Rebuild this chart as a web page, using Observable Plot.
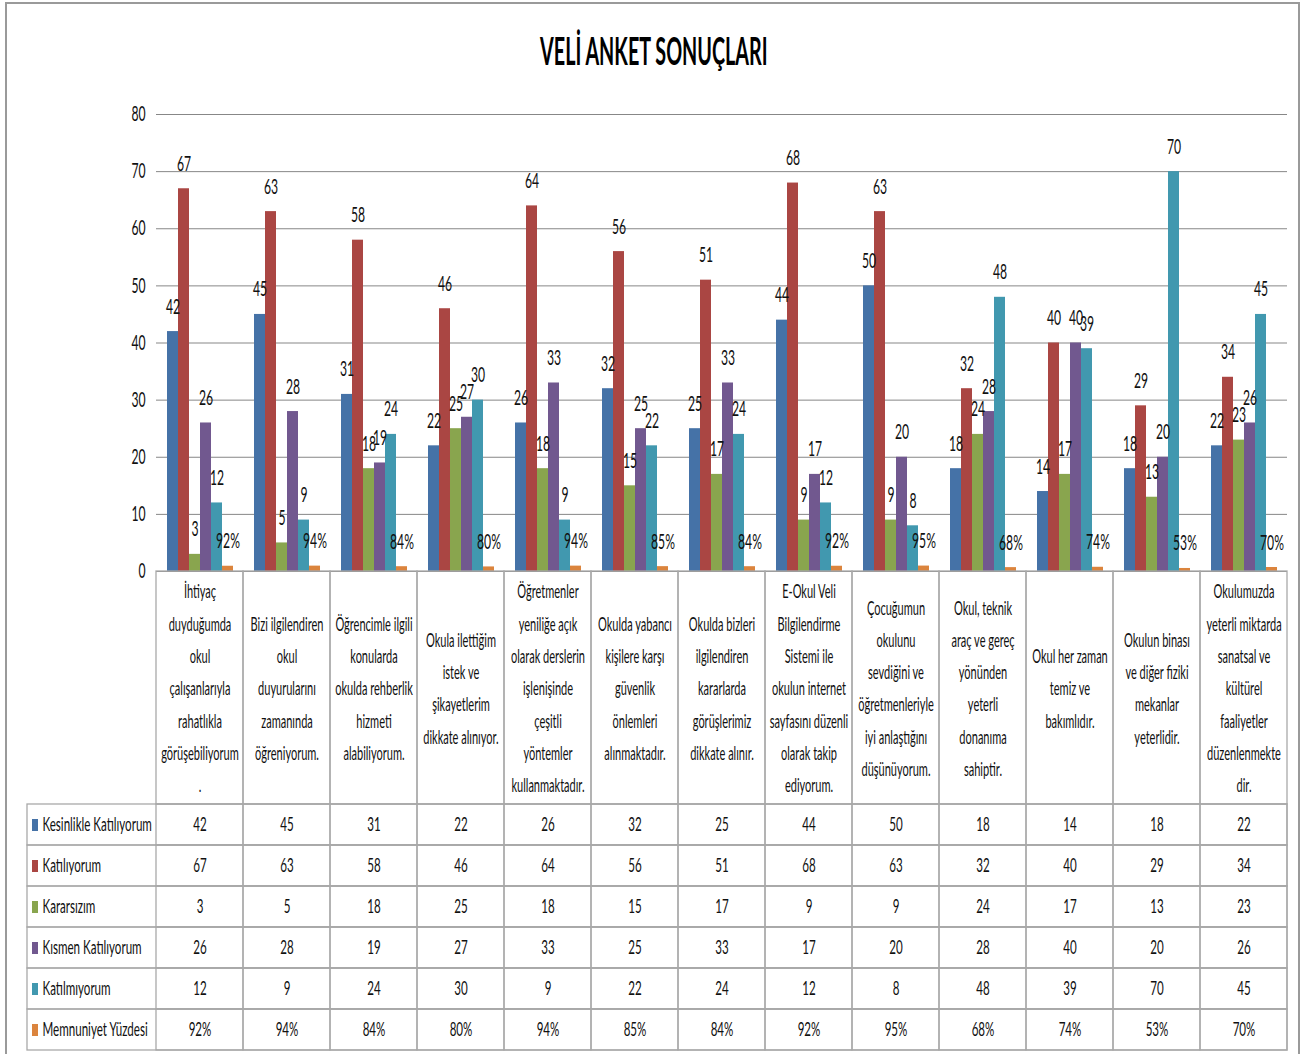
<!DOCTYPE html>
<html>
<head>
<meta charset="utf-8">
<script src="https://cdn.jsdelivr.net/npm/d3@7"></script>
<script src="https://cdn.jsdelivr.net/npm/@observablehq/plot@0.6"></script>
<style>
  html, body { margin: 0; padding: 0; background: #fff; }
  #page { position: relative; width: 1308px; height: 1057px; overflow: hidden; font-family: Lato, sans-serif; }
  #border { position: absolute; left: 5px; top: 2px; width: 1295px; height: 1052px; border: 2px solid #9a9a9a; border-bottom: none; box-sizing: border-box; }
  #title { position: absolute; left: 0; top: 31px; width: 1308px; text-align: center; }
  #title span { display: inline-block; font-size: 38px; line-height: 38px; font-weight: 700; color: #000; transform: scaleX(0.52); transform-origin: center; white-space: nowrap; }
  .blk { position: absolute; left: 0; }
  .blk svg { display: block; }
</style>
</head>
<body>
<div id="page">
  <div id="border"></div>
  <div id="title"><span>VELİ ANKET SONUÇLARI</span></div>
  <div class="blk" id="chart" style="top:90px"></div>
  <div class="blk" id="header" style="top:571px"></div>
  <div class="blk" id="table" style="top:804px"></div>
</div>
<script>
// ---------- data ----------
const categories = [
  "İhtiyaç\nduyduğumda\nokul\nçalışanlarıyla\nrahatlıkla\ngörüşebiliyorum\n.",
  "Bizi ilgilendiren\nokul\nduyurularını\nzamanında\nöğreniyorum.",
  "Öğrencimle ilgili\nkonularda\nokulda rehberlik\nhizmeti\nalabiliyorum.",
  "Okula ilettiğim\nistek ve\nşikayetlerim\ndikkate alınıyor.",
  "Öğretmenler\nyeniliğe açık\nolarak derslerin\nişlenişinde\nçeşitli\nyöntemler\nkullanmaktadır.",
  "Okulda yabancı\nkişilere karşı\ngüvenlik\nönlemleri\nalınmaktadır.",
  "Okulda bizleri\nilgilendiren\nkararlarda\ngörüşlerimiz\ndikkate alınır.",
  "E-Okul Veli\nBilgilendirme\nSistemi ile\nokulun internet\nsayfasını düzenli\nolarak takip\nediyorum.",
  "Çocuğumun\nokulunu\nsevdiğini ve\nöğretmenleriyle\niyi anlaştığını\ndüşünüyorum.",
  "Okul, teknik\naraç ve gereç\nyönünden\nyeterli\ndonanıma\nsahiptir.",
  "Okul her zaman\ntemiz ve\nbakımlıdır.",
  "Okulun binası\nve diğer fiziki\nmekanlar\nyeterlidir.",
  "Okulumuzda\nyeterli miktarda\nsanatsal ve\nkültürel\nfaaliyetler\ndüzenlenmekte\ndir."
];
const series = ["Kesinlikle Katılıyorum", "Katılıyorum", "Kararsızım", "Kısmen Katılıyorum", "Katılmıyorum", "Memnuniyet Yüzdesi"];
const kesinlikleKatiliyorum = [42, 45, 31, 22, 26, 32, 25, 44, 50, 18, 14, 18, 22];
const katiliyorum          = [67, 63, 58, 46, 64, 56, 51, 68, 63, 32, 40, 29, 34];
const kararsizim           = [3, 5, 18, 25, 18, 15, 17, 9, 9, 24, 17, 13, 23];
const kismenKatiliyorum    = [26, 28, 19, 27, 33, 25, 33, 17, 20, 28, 40, 20, 26];
const katilmiyorum         = [12, 9, 24, 30, 9, 22, 24, 12, 8, 48, 39, 70, 45];
const memnuniyetYuzdesi    = [92, 94, 84, 80, 94, 85, 84, 92, 95, 68, 74, 53, 70];
const colors = ["#4572A7", "#AA4643", "#89A54E", "#71588F", "#4198AF", "#DB843D"];
const yTicks = [0, 10, 20, 30, 40, 50, 60, 70, 80];

// ---------- table built from the arrays ----------
const counts = [kesinlikleKatiliyorum, katiliyorum, kararsizim, kismenKatiliyorum, katilmiyorum];
const rows = [];
categories.forEach((c, i) => {
  series.forEach((s, j) => {
    const pct = j === 5;
    const v = pct ? memnuniyetYuzdesi[i] : counts[j][i];
    rows.push({category: c, series: s, value: pct ? v / 100 : v, label: pct ? v + "%" : String(v)});
  });
});

// ---------- layout constants ----------
const S = 0.58;             // horizontal squeeze of the text
const W = 1308, ML = 156, MR = 21;
const plotW = W - ML - MR;  // 1131
const legendW = 129;
const gridColor = "#878787", tableColor = "#a9a9a9", ink = "#111";
const svgStyle = "overflow: visible; background: none; font-family: Lato, sans-serif; color: " + ink + ";";

function squeeze(svg) {
  svg.querySelectorAll("text").forEach(t => {
    const tr = t.getAttribute("transform") || "";
    t.setAttribute("transform", tr + ` scale(${S},1)`);
  });
  return svg;
}

// ---------- bar chart ----------
const chart = Plot.plot({
  width: W, height: 482,
  marginLeft: ML, marginRight: MR, marginTop: 24, marginBottom: 1,
  style: svgStyle,
  fx: {domain: categories, padding: 0, axis: null},
  x: {domain: series, paddingInner: 0, paddingOuter: 0.72, axis: null},
  y: {domain: [0, 80], axis: null},
  color: {domain: series, range: colors},
  marks: [
    Plot.ruleY(yTicks, {stroke: gridColor, strokeWidth: 1}),
    Plot.barY(rows, {fx: "category", x: "series", y: "value", fill: "series"}),
    Plot.text(rows, {fx: "category", x: "series", y: "value", text: "label", lineAnchor: "bottom", dy: -18, fontSize: 21, fill: ink}),
    Plot.axisY({ticks: yTicks, tickSize: 0, tickPadding: 11, fontSize: 21, label: null, line: true, stroke: gridColor, fill: ink})
  ]
});
document.getElementById("chart").appendChild(squeeze(chart));

// ---------- header row (category texts) ----------
const header = Plot.plot({
  width: W, height: 233,
  marginLeft: ML, marginRight: MR, marginTop: 0, marginBottom: 0,
  style: svgStyle,
  x: {domain: categories, padding: 0, axis: null},
  marks: [
    Plot.cell(categories, {x: d => d, fill: "none", stroke: tableColor, strokeWidth: 1.3, inset: 0}),
    Plot.text(categories, {x: d => d, text: d => d, lineAnchor: "middle", lineHeight: 1.7, dy: -3, fontSize: 19, fill: ink})
  ]
});
document.getElementById("header").appendChild(squeeze(header));

// ---------- data table ----------
const table = Plot.plot({
  width: W, height: 253,
  marginLeft: ML, marginRight: MR, marginTop: 0, marginBottom: 7,
  style: svgStyle,
  x: {domain: categories, padding: 0, axis: null},
  y: {domain: series, padding: 0, axis: null},
  color: {domain: series, range: colors},
  marks: [
    Plot.cell(series, {y: d => d, fill: "none", stroke: tableColor, strokeWidth: 1.3, insetLeft: -legendW, insetRight: 0, insetTop: 0, insetBottom: 0}),
    Plot.cell(rows, {x: "category", y: "series", fill: "none", stroke: tableColor, strokeWidth: 1.3, inset: 0}),
    Plot.text(rows, {x: "category", y: "series", text: "label", fontSize: 20, fill: ink}),
    Plot.ruleY(series, {y: d => d, stroke: d => d, strokeWidth: 12, insetLeft: -(legendW - 5), insetRight: plotW + (legendW - 11)}),
    Plot.text(series, {y: d => d, text: d => d, frameAnchor: "left", textAnchor: "start", dx: -(legendW - 15), fontSize: 20, fill: ink})
  ]
});
document.getElementById("table").appendChild(squeeze(table));
</script>
</body>
</html>
